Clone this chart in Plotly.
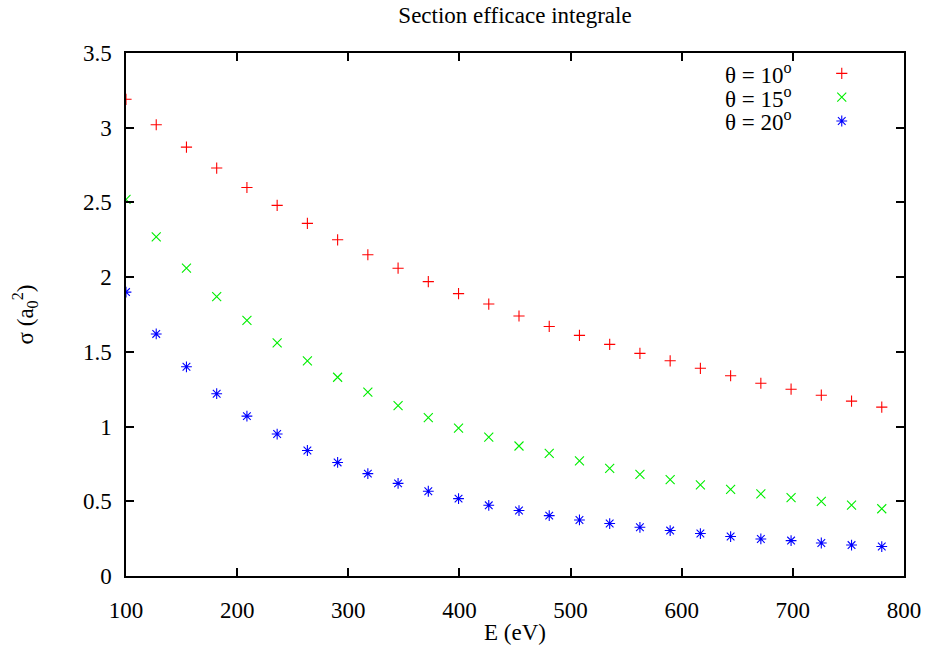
import plotly.graph_objects as go

# ---- data ----
energy_eV = [100.0, 127.2, 154.4, 181.6, 208.8, 236.0, 263.2, 290.4, 317.6, 344.8,
             372.0, 399.2, 426.4, 453.6, 480.8, 508.0, 535.2, 562.4, 589.6, 616.8,
             644.0, 671.2, 698.4, 725.6, 752.8, 780.0]
sigma_10 = [3.19, 3.02, 2.87, 2.73, 2.60, 2.48, 2.36, 2.25, 2.15, 2.06,
            1.97, 1.89, 1.82, 1.74, 1.67, 1.61, 1.55, 1.49, 1.44, 1.39,
            1.34, 1.29, 1.25, 1.21, 1.17, 1.13]
sigma_15 = [2.52, 2.27, 2.06, 1.87, 1.71, 1.56, 1.44, 1.33, 1.23, 1.14,
            1.06, 0.99, 0.93, 0.87, 0.82, 0.77, 0.72, 0.68, 0.645, 0.61,
            0.58, 0.55, 0.525, 0.50, 0.475, 0.45]
sigma_20 = [1.90, 1.62, 1.40, 1.22, 1.07, 0.95, 0.84, 0.76, 0.685, 0.62,
            0.567, 0.518, 0.473, 0.438, 0.404, 0.375, 0.351, 0.326, 0.304, 0.284,
            0.264, 0.248, 0.237, 0.221, 0.207, 0.197]
series_labels = ["θ = 10<sup>o</sup>", "θ = 15<sup>o</sup>", "θ = 20<sup>o</sup>"]
x_ticks = [100, 200, 300, 400, 500, 600, 700, 800]
y_ticks = [0, 0.5, 1, 1.5, 2, 2.5, 3, 3.5]
y_tick_text = ["0", "0.5", "1", "1.5", "2", "2.5", "3", "3.5"]

# ---- styles ----
FONT = "Liberation Serif"
FS = 23
colors = ["#ff0000", "#00ee00", "#0000ff"]
symbols = ["cross-thin", "x-thin", "asterisk"]
msizes = [8, 9, 9]

fig = go.Figure()
for ys, c, s, ms in zip([sigma_10, sigma_15, sigma_20], colors, symbols, msizes):
    fig.add_trace(go.Scatter(
        x=energy_eV, y=ys, mode="markers", showlegend=False,
        marker=dict(symbol=s, size=ms, color=c, line=dict(color=c, width=1.1)),
    ))

# legend (gnuplot style: text right-justified, sample on the right)
leg_x_text = 0.859
leg_x_sample = 0.920
leg_y0 = 0.961
leg_dy = 0.0455
for i, (lab, c, s, ms) in enumerate(zip(series_labels, colors, symbols, msizes)):
    yy = leg_y0 - i * leg_dy
    fig.add_trace(go.Scatter(
        x=[leg_x_sample], y=[yy], xaxis="x2", yaxis="y2", mode="markers",
        showlegend=False, hoverinfo="skip",
        marker=dict(symbol=s, size=ms, color=c, line=dict(color=c, width=1.1)),
    ))
    fig.add_annotation(x=leg_x_text, y=yy, xref="paper", yref="paper",
                       xanchor="right", yanchor="middle", text=lab, showarrow=False,
                       font=dict(family=FONT, size=FS, color="black"))

axis_common = dict(
    showline=True, linecolor="black", linewidth=1.5, mirror="ticks",
    ticks="inside", ticklen=8, tickwidth=1.5, tickcolor="black",
    showgrid=False, zeroline=False, automargin=False,
    tickfont=dict(family=FONT, size=FS, color="black"),
)

fig.update_layout(
    width=926, height=650,
    margin=dict(l=126, r=22, t=53, b=74),
    paper_bgcolor="white", plot_bgcolor="white",
    title=dict(text="Section efficace integrale", x=0.5, xref="paper",
               y=1 - 15 / 650, yanchor="middle",
               font=dict(family=FONT, size=FS, color="black")),
    xaxis=dict(range=[100, 800], tickvals=x_ticks, ticklabelstandoff=13,
               title=dict(text="E (eV)", standoff=2,
                          font=dict(family=FONT, size=FS, color="black")),
               **axis_common),
    yaxis=dict(range=[0, 3.5], tickvals=y_ticks, ticktext=y_tick_text,
               ticklabelstandoff=8,
               title=dict(text="σ (a<sub>0</sub><sup>2</sup>)", standoff=43,
                          font=dict(family=FONT, size=FS, color="black")),
               **axis_common),
    xaxis2=dict(range=[0, 1], overlaying="x", visible=False, fixedrange=True),
    yaxis2=dict(range=[0, 1], overlaying="y", visible=False, fixedrange=True),
)

fig.write_html("out.html")
